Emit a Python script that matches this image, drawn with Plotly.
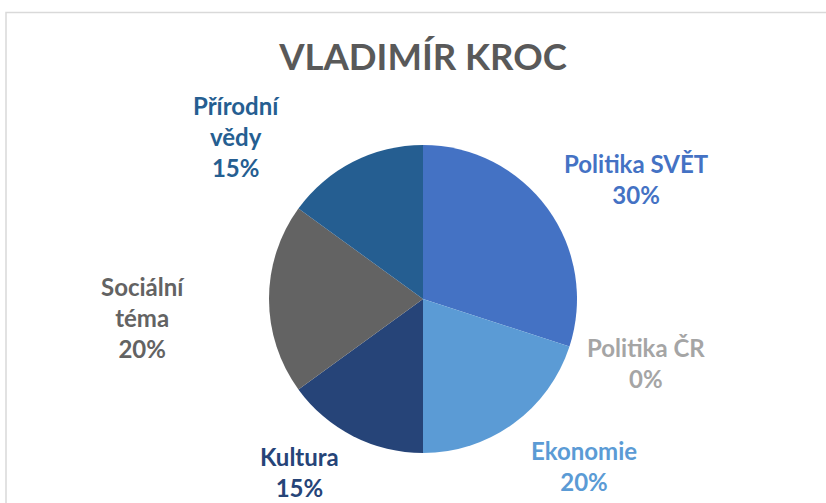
import plotly.graph_objects as go

# ---- data ----
title = "VLADIMÍR KROC"
categories = ["Politika SVĚT", "Politika ČR", "Ekonomie", "Kultura", "Sociální téma", "Přírodní vědy"]
values = [30, 0, 20, 15, 20, 15]
colors = ["#4472C4", "#A5A5A5", "#5B9BD5", "#264478", "#636363", "#255E91"]
wrapped = {"Sociální téma", "Přírodní vědy"}

# ---- layout (label block centres in pixels) ----
W, H = 826, 503
label_pos = [(636, 179), (646, 363), (584, 466), (299, 472), (143, 317), (236, 136)]
cx, cy, r = 423, 299, 154
FONT = "Lato"

fig = go.Figure(go.Pie(
    labels=categories,
    values=values,
    sort=False,
    direction="clockwise",
    rotation=0,
    marker=dict(colors=colors, line=dict(width=0)),
    textinfo="none",
    hoverinfo="label+percent",
    showlegend=False,
    domain=dict(x=[(cx - r) / W, (cx + r) / W], y=[1 - (cy + r) / H, 1 - (cy - r) / H]),
))

total = sum(values)
annotations = []
for cat, val, col, (px, py) in zip(categories, values, colors, label_pos):
    name = cat.replace(" ", "<br>") if cat in wrapped else cat
    pct = round(100 * val / total)
    annotations.append(dict(
        x=px / W, y=1 - py / H, xref="paper", yref="paper",
        xanchor="center", yanchor="middle", showarrow=False,
        text=f"<b>{name}<br>{pct}%</b>", align="center",
        font=dict(family=FONT, size=24, color=col),
    ))

fig.update_layout(
    width=W, height=H,
    margin=dict(l=0, r=0, t=0, b=0),
    paper_bgcolor="white", plot_bgcolor="white",
    title=dict(text=f"<b>{title}</b>", x=423 / W, xanchor="center",
               y=1 - 57 / H, yanchor="middle",
               font=dict(family=FONT, size=36.5, color="#595959")),
    annotations=annotations,
    shapes=[dict(type="rect", xref="paper", yref="paper",
                 x0=6 / W, x1=1.01, y0=-0.01, y1=1 - 12.5 / H,
                 line=dict(color="#D9D9D9", width=1.5), fillcolor="rgba(0,0,0,0)")],
)

fig.write_html("out.html", config={"displayModeBar": False},
               post_script="document.body.style.margin='0';document.body.style.overflow='hidden';")
